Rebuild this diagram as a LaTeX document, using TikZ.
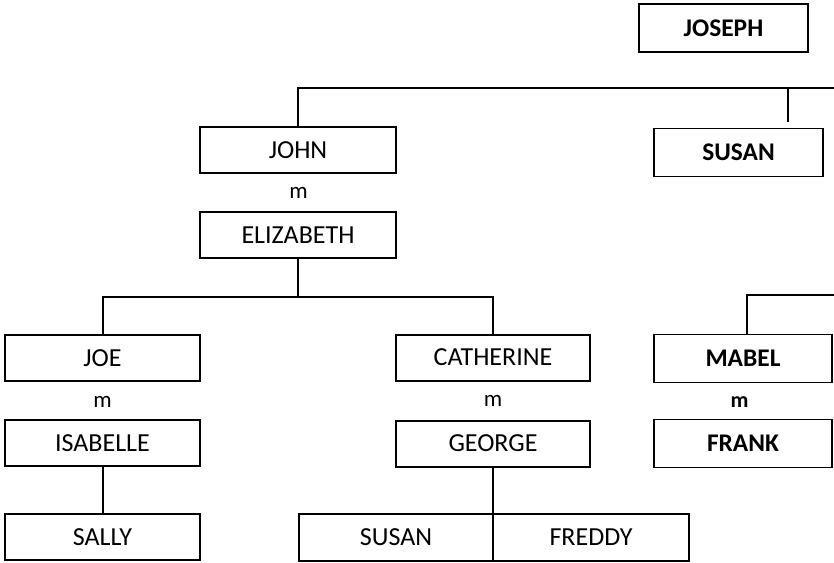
\documentclass[tikz,border=0pt]{standalone}
\usepackage{fontspec}
\setmainfont{Carlito}
\usepackage{tikz}
\usetikzlibrary{positioning}

\tikzset{
  person/.style={draw, line width=2pt, inner sep=0pt, minimum height=46pt,
    font=\fontsize{26}{30}\selectfont},
  kin/.style={draw, line width=1.3pt, inner sep=0pt, minimum height=48pt,
    font=\fontsize{25.4}{30}\selectfont\bfseries},
  wed/.style={inner sep=0pt, font=\fontsize{23}{26}\selectfont},
  link/.style={line width=2pt},
  thinlink/.style={line width=1.3pt}
}

\begin{document}
\begin{tikzpicture}[x=1pt,y=-1pt]
\useasboundingbox (0,0) rectangle (834,562);
% right branch
\node[kin, minimum width=169pt] (joseph) at (723.5,28) {JOSEPH};
\node[kin, minimum width=169pt] (susanR) at (738.5,152.5) {SUSAN};
\node[kin, minimum width=178pt] (mabel) at (743,358.5) {MABEL};
\node[wed, font=\fontsize{22}{26}\selectfont\bfseries] (m4) at (739.5,402) {m};
\node[kin, minimum width=178pt] (frank) at (743,443.5) {FRANK};
% john and elizabeth
\node[person, minimum width=196pt] (john) at (298,150) {JOHN};
\node[wed] (m1) at (298.5,193) {m};
\node[person, minimum width=196pt] (elizabeth) at (298,235) {ELIZABETH};
% their children
\node[person, minimum width=195pt] (joe) at (102.5,358) {JOE};
\node[wed] (m2) at (102.5,402) {m};
\node[person, minimum width=195pt] (isabelle) at (102.5,443) {ISABELLE};
\node[person, minimum width=195pt] (sally) at (102.5,537) {SALLY};
\node[person, minimum width=194pt] (catherine) at (493,357.5) {CATHERINE};
\node[wed] (m3) at (493,401) {m};
\node[person, minimum width=194pt] (george) at (493,443.5) {GEORGE};
\node[person, minimum width=194pt, minimum height=47pt] (susanL) at (396,537.5) {SUSAN};
\node[person, minimum width=196pt, minimum height=47pt] (freddy) at (591,537.5) {FREDDY};

\coordinate (topend) at (834,88);
\coordinate (susanend) at (788,122);
\coordinate (mabelend) at (834,295);
\coordinate (kids) at (298,297);

\draw[link] (topend) -| (john.north);
\draw[link] (susanend) -- (susanend |- topend);
\draw[link] (elizabeth.south) -- (kids);
\draw[link] (kids) -| (joe.north);
\draw[link] (kids) -| (catherine.north);
\draw[link] (isabelle.south) -- (sally.north);
\draw[link] (george.south) -- (george.south |- susanL.north);
\draw[thinlink] (mabelend) -| ([xshift=4pt]mabel.north);
\end{tikzpicture}
\end{document}
